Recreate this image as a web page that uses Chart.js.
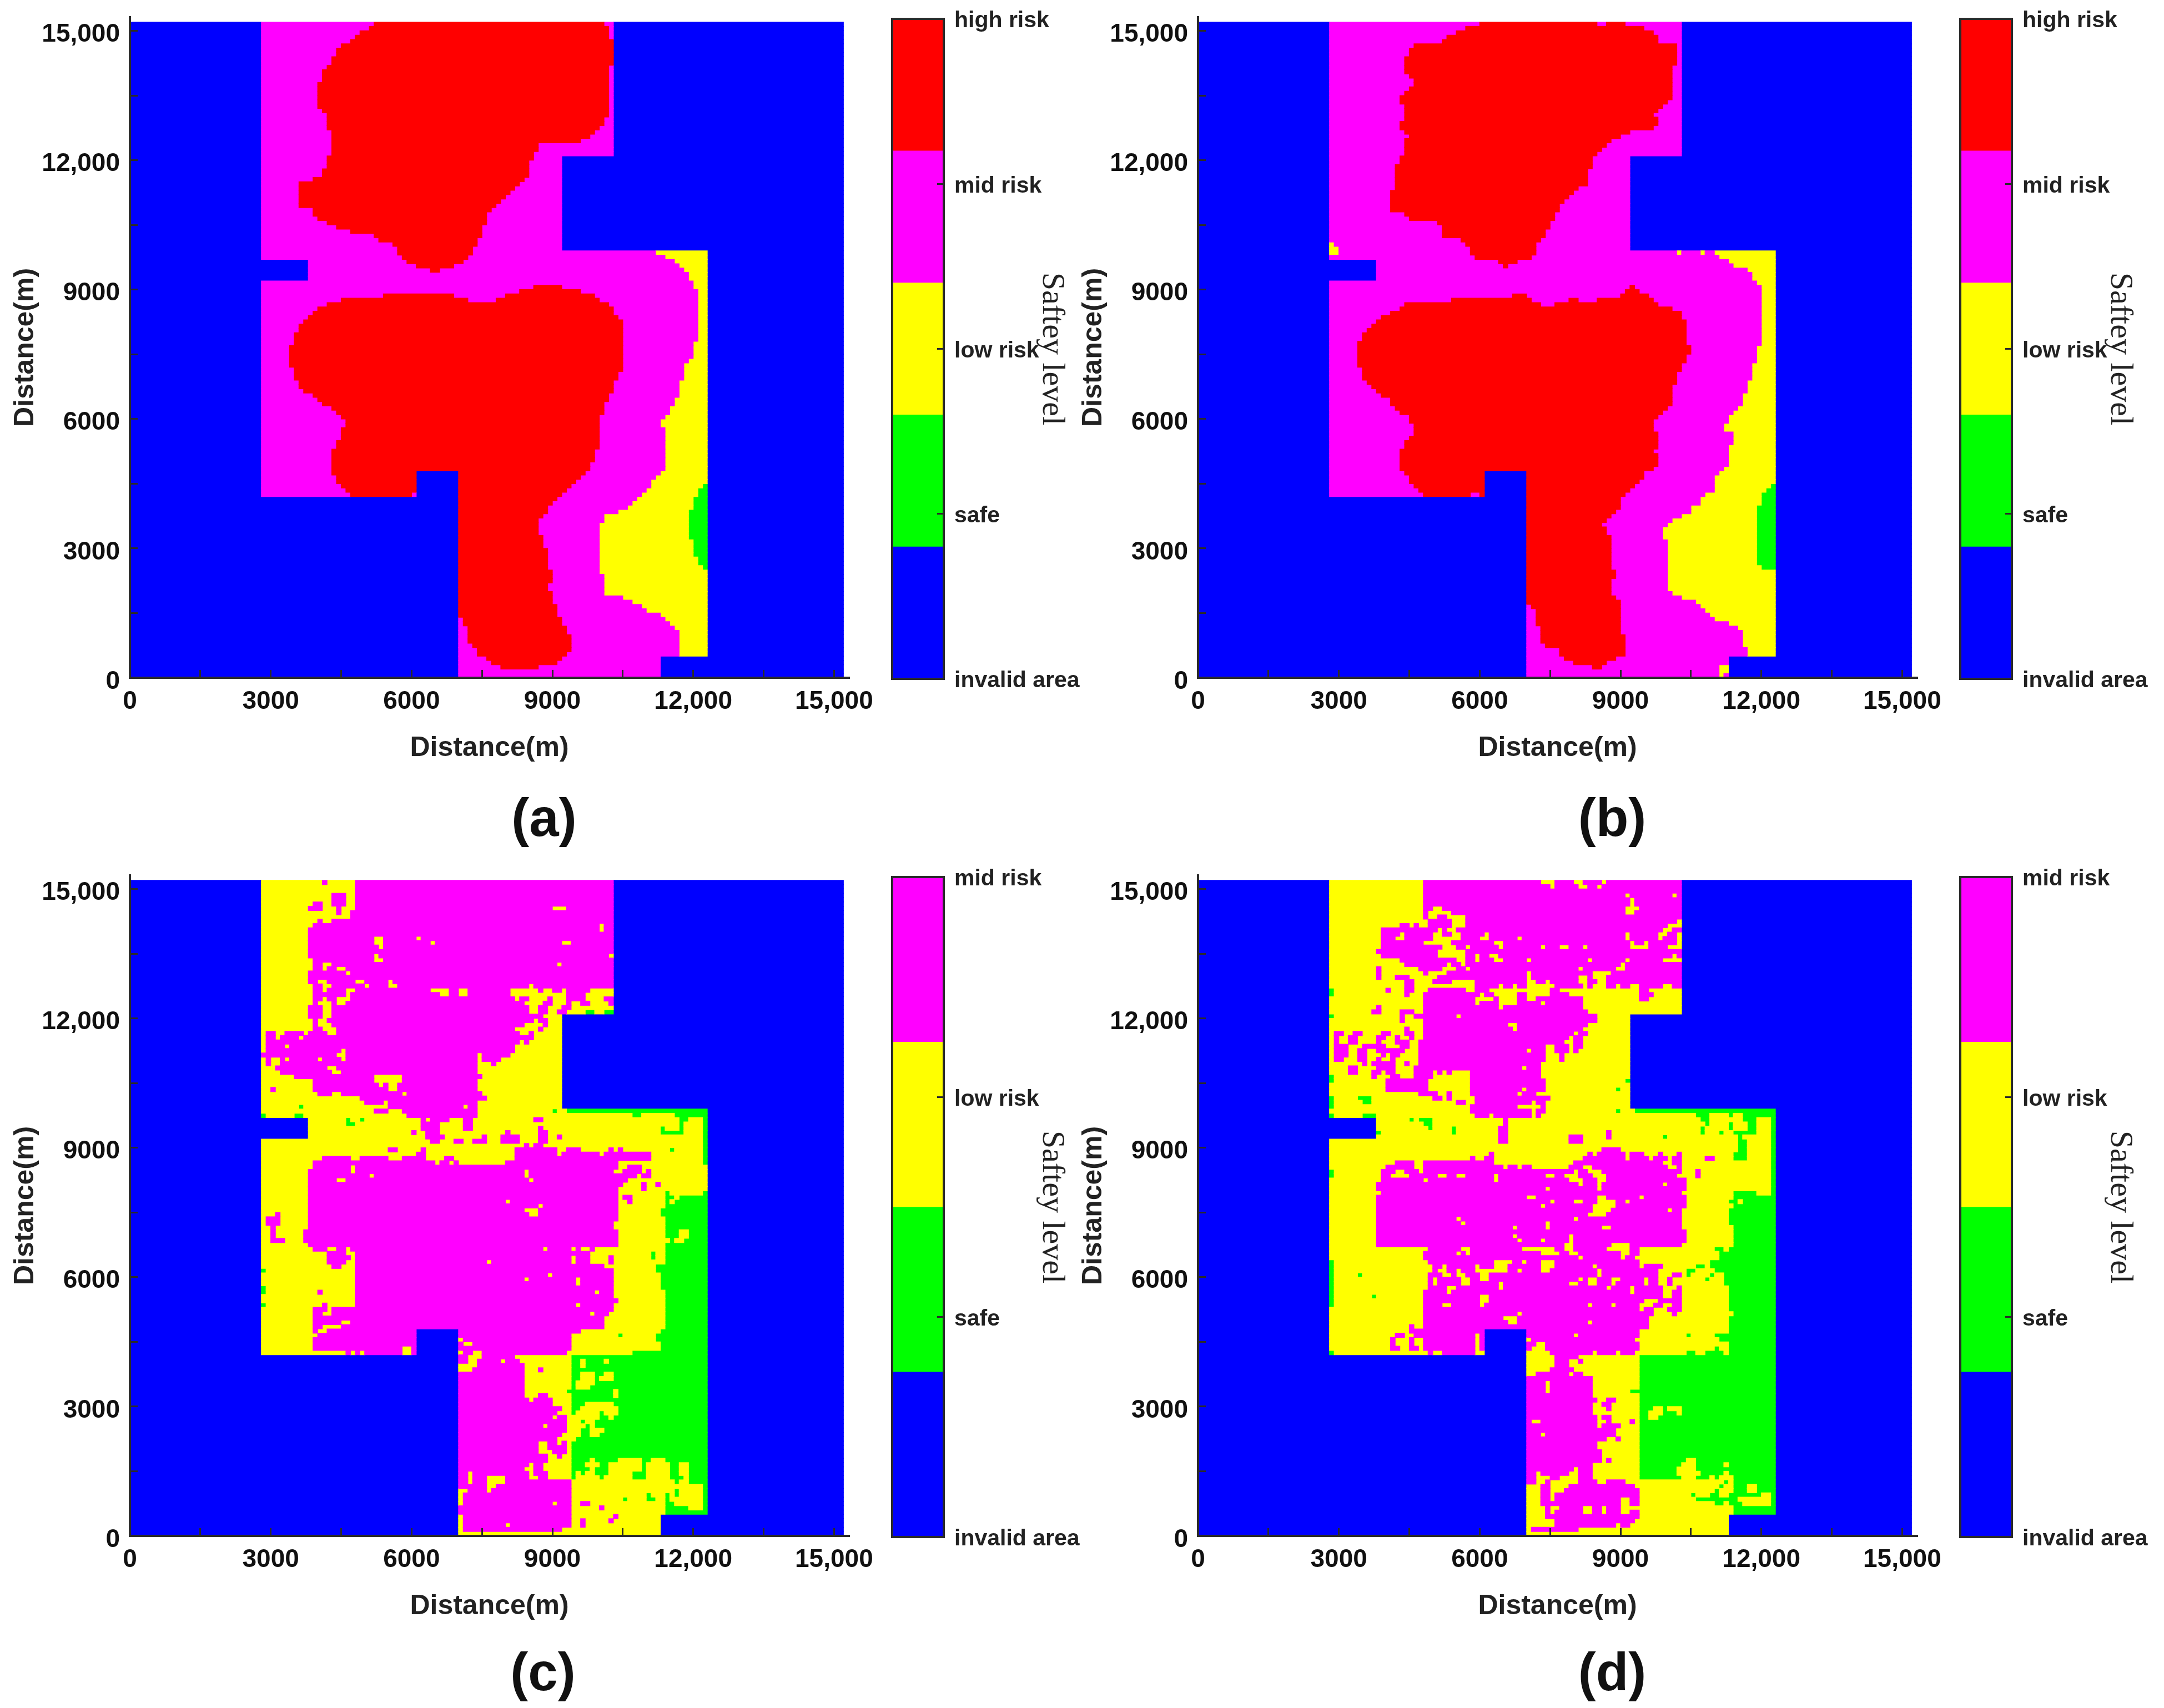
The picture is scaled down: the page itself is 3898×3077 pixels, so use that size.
<!DOCTYPE html>
<html>
<head>
<meta charset="utf-8">
<title>Safety level maps</title>
<script src="https://cdn.jsdelivr.net/npm/chart.js@4/dist/chart.umd.min.js"></script>
<style>
body { margin: 0; background: #fff; width: 3898px; height: 3077px; position: relative; overflow: hidden; }
canvas { position: absolute; }
.tag { position: absolute; font: bold 96px "Liberation Sans", sans-serif; color: #111; transform: translate(-50%, -50%); }
</style>
</head>
<body>
<script>
/* levels, low to high */
const levelNames = ["invalid area", "safe", "low risk", "mid risk", "high risk"];
const levelColors = ["#0000ff", "#00ff00", "#ffff00", "#ff00ff", "#ff0000"];
const axisTicks = [0, 1500, 3000, 4500, 6000, 7500, 9000, 10500, 12000, 13500, 15000];
const distanceTicks = [0, 3000, 6000, 9000, 12000, 15000];
const distanceLabels = ["0", "3000", "6000", "9000", "12,000", "15,000"];

/* the map grid: cells of 100 m, row 0 at the top (15100-15200 m) */
const cellSize = 100;
const gridSize = 152;

/* bands are [rowFrom, rowTo, colFrom, colTo, colFrom, colTo, ...] */
const validBands = [
  [0,31,28,103],[31,53,28,92],[53,55,28,123],[55,60,38,123],[60,104,28,123],
  [104,110,28,61,70,123],[110,147,70,123],[147,152,70,113]
];

/* (a) steps are flat pairs: rowEnd, col */
const aHigh1Left = [1,52,2,51,3,49,4,48,5,47,6,45,8,44,10,43,11,42,14,41,20,40,21,41,25,42,31,43,34,42,36,41,37,39,43,36,45,39,46,40,47,42,48,44,49,47,50,52,51,53,52,56,54,57,55,58,56,59,57,61,58,64];
const aHigh1Right = [1,101,4,102,10,103,22,102,24,101,25,100,26,99,27,98,28,96,30,87,32,86,36,85,37,84,38,83,39,82,40,81,41,80,42,79,43,78,44,77,47,76,50,75,52,74,54,73,55,72,56,71,57,69,58,66];
const aHigh2Left = [62,86,63,83,64,54,65,45,66,42,67,40,68,39,69,38,70,37,72,36,75,35,80,34,83,35,85,36,86,37,87,39,88,40,89,41,90,43,91,44,92,45,94,46,97,45,99,44,105,43,107,44,108,45,109,46,110,47,138,47,140,71,144,72,145,73,147,74,148,76,149,77,150,79];
const aHigh2Right = [62,92,63,96,64,99,65,100,66,102,68,103,69,104,81,105,83,104,86,103,88,102,91,101,99,100,102,99,104,98,105,97,106,96,107,95,108,94,109,93,110,92,111,91,112,90,114,89,115,88,119,87,122,88,127,89,130,90,132,89,135,90,138,91,140,92,142,93,146,94,147,93,148,92,149,91,150,87];
const aMidPatches = [[63,64,69,80],[64,65,72,78],[109,110,60,61]];
const aLowLeft = [54,112,55,114,56,116,57,117,58,118,60,119,62,120,74,121,78,120,79,119,83,118,87,117,89,116,91,115,92,114,94,113,104,114,105,113,106,112,108,111,109,110,110,109,111,108,112,107,113,106,114,104,116,101,128,100,133,101,134,105,135,107,136,109,137,110,138,113,139,114,140,115,141,116,147,117];
const aSafeLeft = [108,122,110,121,113,120,120,119,124,120,126,121,127,122];

/* (b) */
const bHigh1Left = [1,60,2,57,3,55,4,53,5,52,6,46,8,45,12,44,13,45,15,46,16,45,17,44,19,43,23,44,25,43,26,44,27,45,31,44,33,43,39,42,44,41,45,44,46,45,47,51,50,52,51,56,52,57,54,58,55,59,56,64,57,65];
const bHigh1Right = [1,91,2,95,3,97,5,98,10,102,18,101,19,100,20,99,21,98,22,97,24,98,25,97,26,92,27,90,28,88,29,87,30,86,31,85,34,84,38,83,39,81,40,80,41,79,42,78,44,77,46,76,48,75,50,74,51,73,54,72,55,71,56,68,57,66];
const bHigh2Left = [62,92,63,91,64,67,65,54,66,44,67,43,68,41,69,39,70,38,71,37,72,36,74,35,80,34,83,35,84,36,85,37,86,38,87,39,89,41,90,42,91,43,93,45,96,46,97,45,99,44,104,43,105,44,107,45,108,46,109,47,135,48,136,71,140,72,144,73,145,74,147,77,148,78,149,80,150,84];
const bHigh2Right = [62,93,63,94,64,96,65,97,66,98,67,101,69,103,75,104,77,105,79,104,81,103,84,102,89,101,90,100,91,99,92,98,95,97,99,98,100,97,103,98,104,97,106,95,107,94,108,93,109,92,110,91,113,90,114,89,115,88,116,87,117,86,119,87,127,88,129,89,133,88,134,89,142,90,147,91,148,89,149,87,150,86];
const bMidPatches = [[0,1,85,87],[63,64,70,90],[64,65,71,79,81,85],[65,66,73,76],[109,110,58,60]];
const bLowLeft = [54,110,55,111,56,113,57,114,58,117,60,118,61,119,75,120,79,119,83,118,86,117,89,116,90,115,91,114,93,113,95,112,98,114,103,113,104,112,105,111,109,110,110,108,112,107,114,105,115,103,116,101,117,100,120,99,132,100,133,101,134,103,135,106,136,107,137,108,138,109,139,110,140,113,141,115,145,116,147,117];
const bLowPatches = [[51,52,28,29],[52,54,28,30],[53,54,102,103,107,108],[149,152,111,113]];
const bMidLast = [[151,152,112,113]];
const bSafeLeft = [108,122,109,121,112,120,126,119,127,120];

/* (c) */
const cMid = [
  [0,7,48,103],[7,9,47,103],[9,10,40,41,43,103],[10,11,39,103],[11,18,38,103],[18,21,39,103],[21,24,38,103],[24,29,39,103],[29,32,38,103],[32,35,39,103],[35,38,29,103],[38,40,29,82],[40,41,28,81],[41,42,29,79],[42,43,29,78],[43,44,31,74],[44,45,32,74],[45,46,35,75],[46,49,39,74],[49,50,40,75],[50,51,49,76],[51,52,50,74],[52,53,55,74],[53,54,52,74],[54,55,59,74],
  [0,1,41,42],[3,6,43,46],[5,6,39,41],[6,7,38,41],[6,8,44,45],[48,49,30,31],
  [55,56,62,63,64,68,71,73,86,88],[56,57,62,66,71,73],[57,58,62,66,71,73,87,88],[58,59,60,61,63,66,80,81,87,89],[59,60,63,67,75,76,79,83,87,89,91,92],[60,61,64,66,69,71,73,76,79,83,87,89],[61,62,84,85,86,88],[62,63,55,57,62,63,82,91,93,96,102,103,104,105],[63,64,61,63,82,91,92,100,101,111],[64,65,41,47,49,55,58,63,67,69,82,111],[65,66,39,65,66,68,69,70,80,104],
  [66,67,39,104,106,109],[67,68,38,103,105,109,110,111],[68,69,38,108,109,111],[69,70,38,106],[70,71,38,105,109,110,112,113],[71,72,38,104,109,110],[72,79,38,104],[73,74,105,107],[74,75,106,107],[79,81,38,103],[81,84,37,104],[84,85,38,104],[85,86,39,99],[86,89,42,98],[87,89,102,103],[89,90,43,101],[90,97,48,103],[97,98,48,104],[98,99,48,103],[99,100,39,103],[100,101,39,102],[101,104,39,101],[104,105,39,96],[105,106,40,94],[106,109,39,94],[109,110,46,93],
  [77,78,31,32],[78,80,29,32],[80,83,30,31],[83,84,30,33],[95,96,40,41],[98,99,41,42],
  [110,111,70,72,75,82],[111,112,70,72,74,79,80,83],[112,113,74,84],[113,114,73,84,87,88],[114,119,70,84],[119,120,70,84,87,89],[120,121,70,85,86,90],[121,122,70,90],[122,123,70,92],[123,124,70,91],[124,128,70,93],[128,129,70,92],[129,130,70,91],[130,131,70,87,89,91,92,93],[131,132,70,87,89,93],[132,133,70,87,90,93],[133,134,70,89,91,92],[134,135,70,89],[135,136,70,85,86,88],[136,137,70,84,86,88],[137,138,70,85,86,89],[138,139,70,85,87,89],[139,150,70,94],[150,151,70,92],
  [144,145,96,98],[145,146,100,101],[147,148,103,104],[148,149,102,103],[148,150,96,97]
];
const cLow = [
  [6,7,90,93],[10,12,100,101],[13,15,52,54],[15,16,53,54],[13,14,61,62],[14,15,64,65,92,94],[17,18,52,53,102,103],[18,19,52,54],[19,20,41,43,91,92],[20,21,41,42,44,46],[21,22,46,47],[23,24,40,42,48,50,55,56],[24,25,41,43,50,51,55,57,85,86],[25,26,41,42,46,48,64,68,70,72,81,87,88,90,92,93,98,103],[26,27,46,47,66,68,70,72,81,93,97,103],[27,28,41,42,44,47,82,83,85,89,90,93,97,101],[28,29,40,43,44,46,84,88,90,93,94,96,98,102],[29,30,41,43,85,87,89,92,94,103],[30,31,41,43,85,87,89,91,93,103],[31,32,41,43,88,92],[32,33,40,42,86,87,89,92],[33,34,40,43,84,88,89,92],[34,35,41,44,82,87,88,92],[35,36,31,33,37,38,42,44,83,85,86,92],[36,37,31,32,36,37,86,92],[37,38,83,84,85,92],[38,39,33,34],[39,40,45,46],[40,41,44,46,74,75],[41,42,30,32,33,34,40,41,45,46,74,75],[42,43,30,32,74,77],[43,44,42,44],[44,45,43,45],[45,47,52,58],[47,48,53,54,55,57],[48,49,55,57],[49,50,43,45,58,59],[51,52,54,55],[52,53,71,72],[53,54,55,58],
  [66,68,47,48],[67,69,84,85],[68,69,51,52],[69,70,44,46,85,86],[74,75,80,81],[75,76,87,88],[76,77,84,87],[77,78,85,87],[85,86,42,44,46,47,88,89,94,95,96,98],[86,87,46,48],[87,88,47,48,94,95],[88,89,46,48,76,77,94,95],[89,90,45,48],[91,92,89,90],[92,93,84,85,95,96],[93,94,95,96],[95,96,99,100],[98,99,95,96],[99,100,42,43],[100,101,41,43,98,99],[102,103,45,47],[103,104,41,45],[104,105,40,42],[106,107,70,71],[107,108,71,73],[108,110,58,60],[109,110,47,48,49,50,70,71,73,75],
  [124,125,90,91],[126,127,88,89],[137,139,72,73],[138,139,76,80],[139,140,72,73,76,80],[140,141,76,78],[141,142,70,72,76,77],[142,145,70,71],[144,145,90,91],[147,151,70,71],[149,150,80,81]
];
const cSafe = [
  [30,31,97,99,101,103],[52,53,36,37],[53,54,90,91,93,123],[54,55,28,29,35,37,107,109,116,123],[55,56,46,47,49,50,117,119,122,123],[56,57,46,48,117,118,122,123],[57,58,113,114,117,118,122,123],[58,59,113,118,122,123],[59,62,122,123],[62,63,115,116,122,123],[63,66,122,123],[72,73,114,115,122,123],[73,74,114,116,117,123],[74,75,114,115,116,123],[75,76,114,123],[76,78,113,123],[78,81,114,123],[81,83,114,117,119,123],[83,84,115,116,118,123],[84,86,114,123],[86,88,111,112,114,123],[88,89,114,123],[89,91,112,123],[91,95,113,123],[95,104,114,123],[104,105,113,123],[105,106,104,105,112,123],[106,107,112,123],[107,109,113,123],[109,110,107,123],
  [90,91,28,29],[94,96,28,29],[98,99,28,29],
  [110,139,94,123],[118,119,93,94],[139,140,116,117,119,123],[140,147,122,123],[141,143,116,117],[142,144,110,111],[143,144,105,106,111,112],[142,145,114,115],[144,145,115,116],[145,146,114,119],[146,147,114,123]
];
const cLowOnSafe = [
  [111,113,96,97],[111,112,101,102],[114,115,96,99,101,103],[115,116,96,99,100,103],[116,117,95,99],[117,118,95,98],[118,120,103,104],[121,122,97,103],[122,123,96,104],[123,124,95,100,101,104],[124,125,94,100,102,103],[125,126,94,96,97,99],[126,127,94,97,98,99],[127,128,94,96,98,101],[128,129,94,96,98,100],[129,130,94,95],[134,135,98,99,104,109,111,114],[135,136,97,100,102,109,110,115,117,119],[136,137,98,99,102,109,110,115,117,119],[137,138,95,96,97,99,102,107,110,115,117,119],[138,139,95,100,101,107,110,115,118,119]
];

/* (d) */
const dMid = [
  [0,9,48,103],[9,10,49,103],[10,11,43,45,46,47,49,103],[11,16,39,103],[16,17,38,103],[17,18,39,103],[18,19,43,103],[19,20,44,103],[20,21,38,39,47,103],[21,22,38,39,48,49,53,103],[22,23,38,39,42,45,51,103],[23,24,44,46,50,54,59,103],[24,25,44,46,59,64,65,67,68,70,76,82,83,84,87,89,90,92,94,99,101,103],[25,26,40,41,44,46,49,57,59,62,75,77,94,96],[26,27,44,45,48,60,61,63,68,70,75,79,94,97],[27,28,48,59,63,64,68,70,72,82,94,96],[28,29,48,59,60,64,68,73,74,82],[29,30,38,39,48,64,65,82],[30,31,37,39,43,46,48,83],[31,32,43,44,46,85],[32,33,43,44,48,85],[33,34,48,83],[34,35,44,45,48,82],[35,36,29,31,33,35,39,41,44,46,48,83],[36,37,29,30,32,34,38,40,42,43,45,46,48,79,80,82],[37,38,29,30,32,34,38,39,42,45,47,78,80,82],[38,39,29,32,35,40,43,45,47,74,76,79,80,82],[39,40,29,32,34,36,38,44,47,74,76,79,80,81],[40,41,29,32,34,36,39,40,41,43,47,74,77,78],[41,42,29,31,34,36,38,39,41,42,47,74,77,78],[42,43,35,36,37,42,44,45,47,73],[43,44,32,34,38,42,46,73],[44,45,32,34,37,39,40,42,46,73],[45,46,37,38,41,43,46,50,58,73],[46,49,40,49,58,74],[49,50,47,51,53,54,58,72],[50,51,50,52,53,54,59,75],[51,52,55,57,59,71,72,74],[52,53,58,68,73,74],[53,54,58,71,72,74],[54,55,59,62,63,71,72,73],
  [55,57,65,66],[57,61,64,66],[58,60,87,88],[59,61,79,82],[62,63,86,90],[63,64,62,63,83,84,85,91,92,95,98,99,102,103],[64,65,58,59,61,63,82,91,92,96,97,100,101,103,108,110],[65,66,42,46,48,63,80,99,101,103],[66,67,40,46,48,65,66,68,69,71,79,82,84,100,102,103],[67,68,39,80,81,83,86,103,106,107],[68,69,39,102,106,107],[69,70,39,104],[70,72,38,104],[72,73,39,103],[73,76,38,104],[76,81,38,103],[81,84,38,104],[84,85,38,103],[85,86,49,94],[86,87,48,94],[87,88,48,93],[88,89,49,94],[89,90,50,94,95,99],[90,91,50,98],[91,92,49,98,101,103],[92,94,49,98,100,101],[94,95,49,99,102,103],[95,97,48,99,101,103],[97,100,48,103],[100,101,48,97,101,102],[101,103,48,96],[103,104,45,46,48,96],[104,105,45,94],[105,106,42,44,46,94],[106,107,41,42,45,46,48,93],[107,108,41,42,45,46,48,94],[108,109,41,43,45,47,48,94],[109,110,49,50,52,59,75,84,85,89,90,93],[110,111,76,81],[111,112,76,79,81,82],[112,113,76,79],[113,114,75,80],[114,115,72,79,80,82],[115,116,70,84],
  [116,120,70,84],[120,121,70,85,87,89],[121,122,70,84,86,88],[122,123,70,84,87,88],[123,124,70,84],[124,125,70,85,86,88],[125,126,70,85,87,88,92,93],[126,127,70,85,86,90],[127,129,70,89],[129,130,70,87,89,90],[130,132,70,85],[132,134,70,86],[134,135,70,86,87,88],[135,136,70,84],[136,137,70,80,81,84],[137,138,70,72,73,79,81,84],[138,139,70,72,75,77,81,84],[139,140,70,72,74,75,81,85,87,91],[140,141,73,75,79,93],[141,142,73,75,78,94],[142,143,73,75,76,94],[143,144,73,75,76,90,92,94],[144,145,73,90,92,94],[145,146,74,75,77,82,84,86,87,90],[146,147,74,75,76,82,84,86,87,90,92,94],[147,148,74,94],[148,149,76,93],[149,150,76,89,90,92],[150,151,71,81]
];
const dLow = [
  [0,1,73,76,80,82,86,87],[1,2,75,76,81,83,85,86],[3,4,91,92,101,102],[4,6,92,93],[6,7,50,52,91,94],[7,8,49,54,91,93],[8,9,49,51,53,57],[9,10,54,57,102,103],[10,11,54,57,100,103],[11,12,51,52,53,55,99,101],[12,13,43,44,50,52,54,56,61,62,91,92,98,100,102,103],[13,14,42,44,50,56,60,62,68,69,91,92,98,99,102,103],[14,15,48,54,63,65,92,93,95,96,102,103],[15,16,52,55,57,58,64,65,73,74,77,79,82,83,92,96,100,103],[16,17,51,57],[17,18,51,57,59,60,62,64,101,102],[18,19,55,57,59,60,63,65,70,71,83,84,91,92,99,103],[19,20,53,54,56,57,90,91],[20,21,52,55,57,58,81,82,89,91],[21,22,70,71,84,88],[22,23,70,71,81,83,84,87],[23,24,70,72,74,75,81,83,85,87],
  [31,32,55,56],[33,34,66,68],[34,35,67,68],[35,36,80,81],[39,40,70,71],[43,44,69,70],[44,45,50,51,52,53,54,58],[48,49,69,70],[49,50,68,69],
  [67,68,42,44,47,48],[68,69,41,45,51,53,55,57,63,64,74,76,78,81,84,87],[69,70,48,49,63,64,79,82,85,87],[70,71,81,82,85,86,99,100],[71,72,74,75,85,86],[73,74,70,72,85,87,94,95],[74,75,75,76,80,82,85,89,91,92],[75,76,73,74,84,89],[76,77,84,88,100,101],[77,78,83,87],[78,79,55,56,80,81],[79,80,56,57,74,75],[80,81,67,68,74,75,86,88],[82,83,67,68,79,80],[83,84,68,69,73,74,79,80],[84,85,78,80,88,92],[85,86,56,58,69,76,78,80,87,92],[86,87,55,56,57,58,73,77,79,81,90,92],[87,88,81,82,90,91],[88,89,63,67,69,70,73,76],[89,90,52,53,59,60,63,66,73,76,84,85],[90,91,51,53,55,56,59,66,68,69,73,75,85,86],[91,92,52,54,55,57,60,62,85,86],[92,93,50,51,56,58,60,62,81,82,83,85,88,90,95,96],[93,94,50,51,56,58,64,65,79,81,83,85,88,89,95,96],[94,95,53,55,64,65,87,88,92,93],[95,96,53,54,92,93],[96,97,60,62],[97,98,60,62,95,98],[98,99,52,54,60,61,83,84,88,89,94,97,99,101],[99,100,94,95,97,100],[100,101,68,69],[101,102,65,68],[102,103,66,68,83,84],[105,106,59,60,80,81],[106,107,59,60,70,71],[107,108,59,60,72,74],[108,109,59,60,71,74],
  [116,119,74,75],[125,126,71,73],[128,129,73,74]
];
const dSafe = [
  [25,27,28,29],[31,32,28,29],[45,47,28,29],[46,47,91,92],[48,49,89,90],[50,51,28,29,34,37],[51,52,28,29,35,37],[52,53,28,29],[53,54,89,90,93,123],[54,55,28,29,35,38,106,109,113,114,116,123],[55,56,45,46,47,50,107,109,116,119,122,123],[56,57,48,50,108,109,113,114,117,119,122,123],[57,58,49,50,54,55,107,108,113,114,117,119,122,123],[58,59,38,39,54,55,107,108,111,112,114,119,122,123],[59,60,99,100,115,116,122,123],[60,63,115,117,122,123],[63,65,114,117,122,123],[65,72,122,123],[67,69,28,29],[72,73,114,119,122,123],[73,74,114,123],[74,75,113,115,116,123],[75,76,114,123],[76,80,113,123],[80,85,114,123],[85,86,110,112,113,123],[86,88,111,123],[88,89,109,123],[89,90,106,108,109,123],[90,91,104,106,110,123],[91,92,104,105,109,110,112,123],[92,93,108,109,112,123],[93,94,112,123],[94,100,113,123],[100,101,114,123],[101,105,113,123],[105,106,104,105,110,123],[106,107,111,123],[107,108,113,123],[108,109,110,111,113,123],[109,110,104,106,108,112,113,123],
  [88,99,28,29],[109,110,28,29],[91,92,34,35],[96,97,37,38],
  [110,139,94,123],[118,119,92,94],[139,140,112,113,114,123],[140,141,111,112,114,117,119,123],[141,142,110,111,114,117,119,123],[142,143,105,106,109,111,113,120,122,123],[143,144,106,115,122,123],[144,145,110,112,113,116,122,123],[145,147,114,123]
];
const dLowOnSafe = [
  [122,123,97,99,100,103],[123,124,96,99,102,103],[124,125,96,98],[134,135,104,106],[135,136,103,106,112,113],[136,137,102,106],[137,138,102,107,112,113],[138,139,103,106,109,110,111,114]
];

/* colour bar edges and ticks */
const barEdges5 = [1, 1.8, 2.6, 3.4, 4.2, 5];
const barEdges4 = [1, 1.75, 2.5, 3.25, 4];

function newGrid(level) {
  let grid = [];
  for (let r = 0; r < gridSize; r++) grid.push(new Array(gridSize).fill(level));
  return grid;
}

function paintBands(grid, level, bands) {
  for (const b of bands) {
    for (let r = b[0]; r < b[1]; r++) {
      for (let i = 2; i < b.length; i += 2) {
        for (let c = b[i]; c < b[i + 1]; c++) grid[r][c] = level;
      }
    }
  }
}

function stepsToCols(startRow, steps) {
  let cols = {};
  let r = startRow;
  for (let i = 0; i < steps.length; i += 2) {
    for (; r < steps[i]; r++) cols[r] = steps[i + 1];
  }
  return cols;
}

// fills between a left and a right outline, no right outline means up to the edge
function paintBlob(grid, level, startRow, lefts, rights) {
  let l = stepsToCols(startRow, lefts);
  let rt = rights ? stepsToCols(startRow, rights) : null;
  for (let r in l) {
    let end = rt ? rt[r] : gridSize;
    for (let c = l[r]; c < end; c++) grid[r][c] = level;
  }
}

function applyMask(grid) {
  let out = newGrid(0);
  for (const b of validBands) {
    for (let r = b[0]; r < b[1]; r++) {
      for (let i = 2; i < b.length; i += 2) {
        for (let c = b[i]; c < b[i + 1]; c++) out[r][c] = grid[r][c];
      }
    }
  }
  return out;
}

function gridA() {
  let g = newGrid(3);
  paintBlob(g, 4, 0, aHigh1Left, aHigh1Right);
  paintBlob(g, 4, 61, aHigh2Left, aHigh2Right);
  paintBands(g, 3, aMidPatches);
  paintBlob(g, 2, 53, aLowLeft);
  paintBlob(g, 1, 107, aSafeLeft);
  return applyMask(g);
}

function gridB() {
  let g = newGrid(3);
  paintBlob(g, 4, 0, bHigh1Left, bHigh1Right);
  paintBlob(g, 4, 61, bHigh2Left, bHigh2Right);
  paintBands(g, 3, bMidPatches);
  paintBlob(g, 2, 53, bLowLeft);
  paintBands(g, 2, bLowPatches);
  paintBands(g, 3, bMidLast);
  paintBlob(g, 1, 107, bSafeLeft);
  return applyMask(g);
}

function gridFromLists(mid, low, safe, lowOnSafe) {
  let g = newGrid(2);
  paintBands(g, 3, mid);
  paintBands(g, 2, low);
  paintBands(g, 1, safe);
  paintBands(g, 2, lowOnSafe);
  return applyMask(g);
}

// each row becomes floating bars, one dataset per level
function gridToDatasets(grid) {
  let sets = levelColors.map((color, i) => ({
    label: levelNames[i],
    backgroundColor: color,
    borderWidth: 0,
    inflateAmount: 0.6,
    barThickness: 7.8,
    grouped: false,
    order: i === 0 ? 9 : 5 - i,
    data: []
  }));
  for (let r = 0; r < gridSize; r++) {
    let c = 0;
    while (c < gridSize) {
      let end = c;
      while (end < gridSize && grid[r][end] === grid[r][c]) end++;
      sets[grid[r][c]].data.push({
        x: [c * cellSize, end * cellSize],
        y: (gridSize - r) * cellSize - cellSize / 2
      });
      c = end;
    }
  }
  return sets;
}

function addCanvas(left, top, w, h) {
  let canvas = document.createElement("canvas");
  canvas.width = w;
  canvas.height = h;
  canvas.style.left = left + "px";
  canvas.style.top = top + "px";
  canvas.style.width = w + "px";
  canvas.style.height = h + "px";
  document.body.appendChild(canvas);
  return canvas;
}

function distanceLabel(v) {
  let i = distanceTicks.indexOf(v);
  return i < 0 ? "" : distanceLabels[i];
}

// axis box sizes are fixed, labels must not push the plot area in
function fixScale(scale, side, size) {
  scale[side] = size;
  scale.paddingTop = 0;
  scale.paddingBottom = 0;
  scale.paddingLeft = 0;
  scale.paddingRight = 0;
}

const axisColor = "#2b2b2b";
const tickFont = { family: "'Liberation Sans', sans-serif", weight: "bold", size: 46 };
const titleFont = { family: "'Liberation Sans', sans-serif", weight: "bold", size: 50 };

function distanceAxis(fitSide, fitSize, pad, titlePad, labelShift) {
  return {
    type: "linear",
    min: 0,
    max: 15315,
    offset: false,
    border: { color: axisColor, width: 4, z: 1 },
    grid: { offset: false, drawOnChartArea: false, z: 1, color: axisColor, lineWidth: 3, tickLength: -14, tickColor: axisColor },
    ticks: { autoSkip: false, maxRotation: 0, padding: pad, labelOffset: labelShift, color: "#111", font: tickFont, callback: distanceLabel },
    title: { display: true, text: "Distance(m)", color: "#222", font: titleFont, padding: titlePad },
    afterBuildTicks: function (scale) { scale.ticks = axisTicks.map(v => ({ value: v })); },
    afterFit: function (scale) { fixScale(scale, fitSide, fitSize); }
  };
}

function drawMap(dx, dy, grid) {
  new Chart(addCanvas(dx, dy, 1600, 1378), {
    type: "bar",
    data: { datasets: gridToDatasets(grid) },
    options: {
      indexAxis: "y",
      responsive: false,
      animation: false,
      events: [],
      layout: { autoPadding: false, padding: { left: 0, top: 31, right: 71, bottom: 0 } },
      plugins: { legend: { display: false }, tooltip: { enabled: false }, title: { display: false } },
      scales: {
        x: distanceAxis("height", 157, 30, 0, 0),
        y: distanceAxis("width", 234, 32, { top: 16, bottom: 0 }, 7)
      }
    }
  });
}

const frame = {
  id: "frame",
  afterDatasetsDraw(chart) {
    let a = chart.chartArea, ctx = chart.ctx;
    ctx.save();
    ctx.strokeStyle = axisColor;
    ctx.lineWidth = 4;
    ctx.strokeRect(a.left, a.top, a.right - a.left, a.bottom - a.top);
    ctx.restore();
  }
};

function drawColorBar(dx, dy, edges, names, colors) {
  let sets = colors.map((color, i) => ({
    backgroundColor: color,
    borderWidth: 0,
    grouped: false,
    barPercentage: 1,
    categoryPercentage: 1,
    data: [[edges[i], edges[i + 1]]]
  }));
  new Chart(addCanvas(dx + 1560, dy, 400, 1300), {
    type: "bar",
    data: { labels: [""], datasets: sets },
    plugins: [frame],
    options: {
      responsive: false,
      animation: false,
      events: [],
      layout: { autoPadding: false, padding: { left: 47, top: 34, right: 0, bottom: 77 } },
      plugins: { legend: { display: false }, tooltip: { enabled: false } },
      scales: {
        x: { display: false },
        y: {
          position: "right",
          min: edges[0],
          max: edges[edges.length - 1],
          border: { display: false },
          grid: { drawOnChartArea: false, z: 1, color: axisColor, lineWidth: 3, tickLength: -12, tickColor: axisColor },
          ticks: { stepSize: 1, autoSkip: false, includeBounds: false, padding: 31, labelOffset: 4, color: "#222", font: { family: "'Liberation Sans', sans-serif", weight: "bold", size: 41 }, callback: v => names[v - 1] },
          title: { display: true, text: "Saftey level", color: "#222", font: { family: "'Liberation Serif', serif", size: 58 }, padding: 31 },
          afterFit: function (scale) { fixScale(scale, "width", 260); }
        }
      }
    }
  });
}

function addTag(text, x, y) {
  let div = document.createElement("div");
  div.className = "tag";
  div.textContent = text;
  div.style.left = x + "px";
  div.style.top = y + "px";
  document.body.appendChild(div);
}

window.onload = function () {
  const names5 = levelNames;
  const names4 = levelNames.slice(0, 4);
  const colors5 = levelColors;
  const colors4 = levelColors.slice(0, 4);

  drawMap(0, 0, gridA());
  drawColorBar(0, 0, barEdges5, names5, colors5);
  addTag("(a)", 980, 1473);

  drawMap(1924, 0, gridB());
  drawColorBar(1924, 0, barEdges5, names5, colors5);
  addTag("(b)", 2904, 1473);

  drawMap(0, 1546, gridFromLists(cMid, cLow, cSafe, cLowOnSafe));
  drawColorBar(0, 1546, barEdges4, names4, colors4);
  addTag("(c)", 978, 3012);

  drawMap(1924, 1546, gridFromLists(dMid, dLow, dSafe, dLowOnSafe));
  drawColorBar(1924, 1546, barEdges4, names4, colors4);
  addTag("(d)", 2904, 3012);
};
</script>
</body>
</html>
